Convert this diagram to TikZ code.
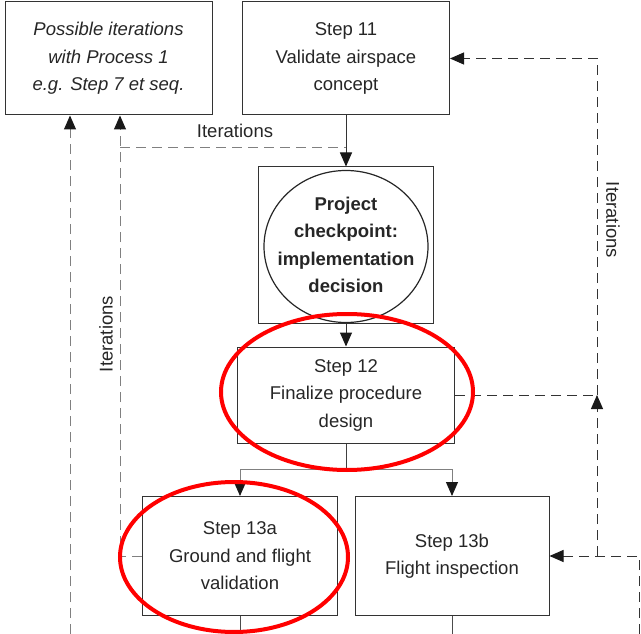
\documentclass[tikz,border=0pt]{standalone}
\usepackage{fontspec}
\setmainfont{Liberation Sans}
\usetikzlibrary{arrows.meta}
\newcommand\boxfont{\fontsize{18.5}{27.5}\selectfont}

\begin{document}
\begin{tikzpicture}[x=1pt,y=-1pt,
	tip/.style={-{Triangle[length=14pt,width=12pt,black!90]}},
	stepbox/.style={rectangle, draw=black!80, line width=1pt, align=center, inner sep=0pt, text=black!85, font=\boxfont},
	lbl/.style={text=black!85, font=\boxfont, inner sep=0pt},
	iterline/.style={dash pattern=on 10pt off 6pt, line width=1pt},
	flowline/.style={line width=1pt},
	redring/.style={draw=red, line width=4pt}]
	\useasboundingbox (0,0) rectangle (641,634);

	% boxes
	\node[stepbox, minimum width=207pt, minimum height=113pt, font=\boxfont\itshape] (poss) at (108.5,58.5) {Possible iterations\\ with Process 1\\ e.g. Step 7 et seq.};
	\node[stepbox, minimum width=207pt, minimum height=113pt] (s11) at (346,58.5) {Step 11\\ Validate airspace\\ concept};
	\node[stepbox, minimum width=175pt, minimum height=156pt, font=\boxfont\bfseries] (chk) at (346,245) {Project\\ checkpoint:\\ implementation\\ decision};
	\draw[black!85, line width=1.2pt] (chk.center) ++(0,1.5) ellipse [x radius=82pt, y radius=76pt];
	\node[stepbox, minimum width=217pt, minimum height=96pt] (s12) at (346,395) {Step 12\\ Finalize procedure\\ design};
	\node[stepbox, minimum width=195pt, minimum height=119pt] (s13a) at (240,556) {Step 13a\\ Ground and flight\\ validation};
	\node[stepbox, minimum width=194pt, minimum height=119pt] (s13b) at (452,556) {Step 13b\\ Flight inspection};

	% main flow
	\draw[flowline, black!80, tip] (s11.south) -- (chk.north);
	\draw[flowline, black!80, tip] (chk.south) -- (s12.north);
	\coordinate (br) at (346,469);
	\draw[flowline, black!75] (s12.south) -- (br);
	\draw[flowline, gray, tip] (br) -| (s13a.north);
	\draw[flowline, gray, tip] (br) -| (s13b.north);
	\coordinate (bot) at (0,634);
	\draw[flowline, black!70] (s13a.south) -- (s13a.south |- bot);
	\draw[flowline, black!70] (s13b.south) -- (s13b.south |- bot);

	% iterations, left
	\coordinate (lj) at (120,148);
	\coordinate (lb) at (70,634);
	\draw[iterline, gray] (lj) -- (lj -| s11.south);
	\draw[iterline, gray, tip] (s13a.west) -- (s13a.west -| lj) -- (lj |- poss.south);
	\draw[iterline, gray, tip] (lb) -- (lb |- poss.south);
	\node[lbl] (itop) at (235,131) {Iterations};
	\node[lbl, rotate=90] (ileft) at (106,334) {Iterations};

	% iterations, right
	\coordinate (rb) at (597,556);
	\coordinate (fr) at (639,634);
	\draw[iterline, black!80, tip] (fr) |- (s13b.east);
	\draw[iterline, black!80, tip] (rb) -- (rb |- s12.east);
	\draw[iterline, black!80] (s12.east) -- (rb |- s12.east);
	\draw[iterline, black!80, tip] (rb |- s12.east) |- (s11.east);
	\node[lbl, rotate=-90] (iright) at (613,220) {Iterations};

	% highlights
	\draw[redring] (347,392) ellipse [x radius=126pt, y radius=78pt];
	\draw[redring] (234,557) ellipse [x radius=114pt, y radius=75pt];
\end{tikzpicture}
\end{document}
